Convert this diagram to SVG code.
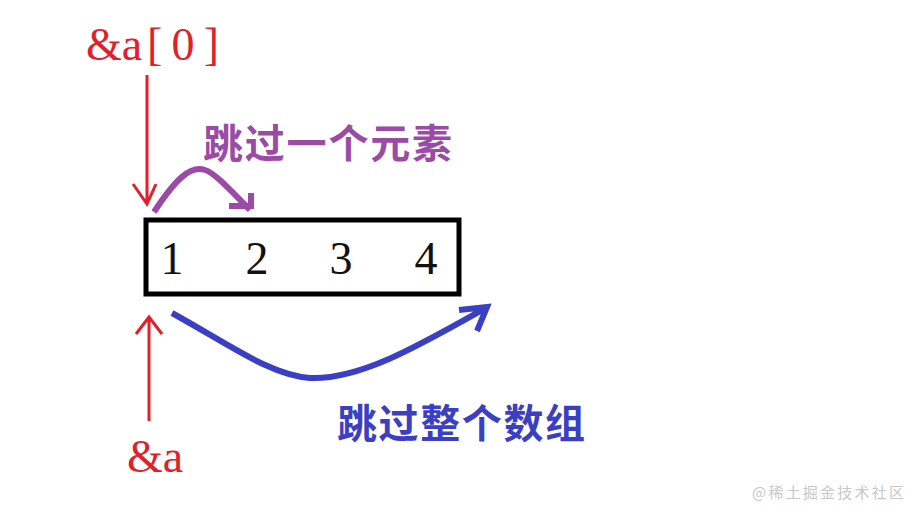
<svg xmlns="http://www.w3.org/2000/svg" width="916" height="510" viewBox="0 0 916 510">
<style>
.red{fill:#e0202a;font-family:"Liberation Serif",serif;font-size:46px}
.num{fill:#111;font-family:"Liberation Serif",serif;font-size:46px;text-anchor:middle}
.cn{font-family:"Liberation Serif","Noto Sans CJK SC",sans-serif;font-size:40px;font-weight:bold}
.rl{stroke:#e0202a;stroke-width:3;fill:none}
.pl{stroke:#9b4aa6;stroke-width:6;fill:none}
.bl{stroke:#3b3fc4;stroke-width:6;fill:none}
</style>
<rect width="916" height="510" fill="#fff"/>
<g id="label-a0"><text class="red" x="86" y="60">&amp;a<tspan x="147" textLength="72" lengthAdjust="spacing">[0]</tspan></text></g>
<g id="label-a"><text class="red" x="127" y="472">&amp;a</text></g>
<g id="array">
<rect x="146" y="220" width="313" height="74" fill="#fff" stroke="#000" stroke-width="5"/>
<text class="num" x="172" y="274">1</text>
<text class="num" x="257" y="274">2</text>
<text class="num" x="341" y="274">3</text>
<text class="num" x="426" y="274">4</text>
</g>
<g id="label-skip-elem"><text class="cn" x="203" y="158" fill="#9b4aa6" textLength="249" lengthAdjust="spacing">跳过一个元素</text></g>
<g id="label-skip-arr"><text class="cn" x="337" y="438" fill="#3b3fc4" textLength="248" lengthAdjust="spacing">跳过整个数组</text></g>
<g id="connectors">
<path class="rl" d="M147 75 V203 M133 184 L147 204 L156 184"/>
<path class="rl" d="M149 421 V318 M136 334 L149 317 L162 334"/>
<path class="pl" d="M154 212 C175 180 190 165 205 170 C215 173 230 190 250 210 M229 206 H251 V193"/>
<path class="bl" d="M172 313 C230 345 270 375 310 378 C360 380 420 345 484 309 M459 310 L487 307 L477 331"/>
</g>
<g id="watermark"><text x="752" y="498" fill="#c8c8c8" font-family="'Noto Sans CJK SC',sans-serif" font-size="15" textLength="152" lengthAdjust="spacing">@稀土掘金技术社区</text></g>
</svg>
